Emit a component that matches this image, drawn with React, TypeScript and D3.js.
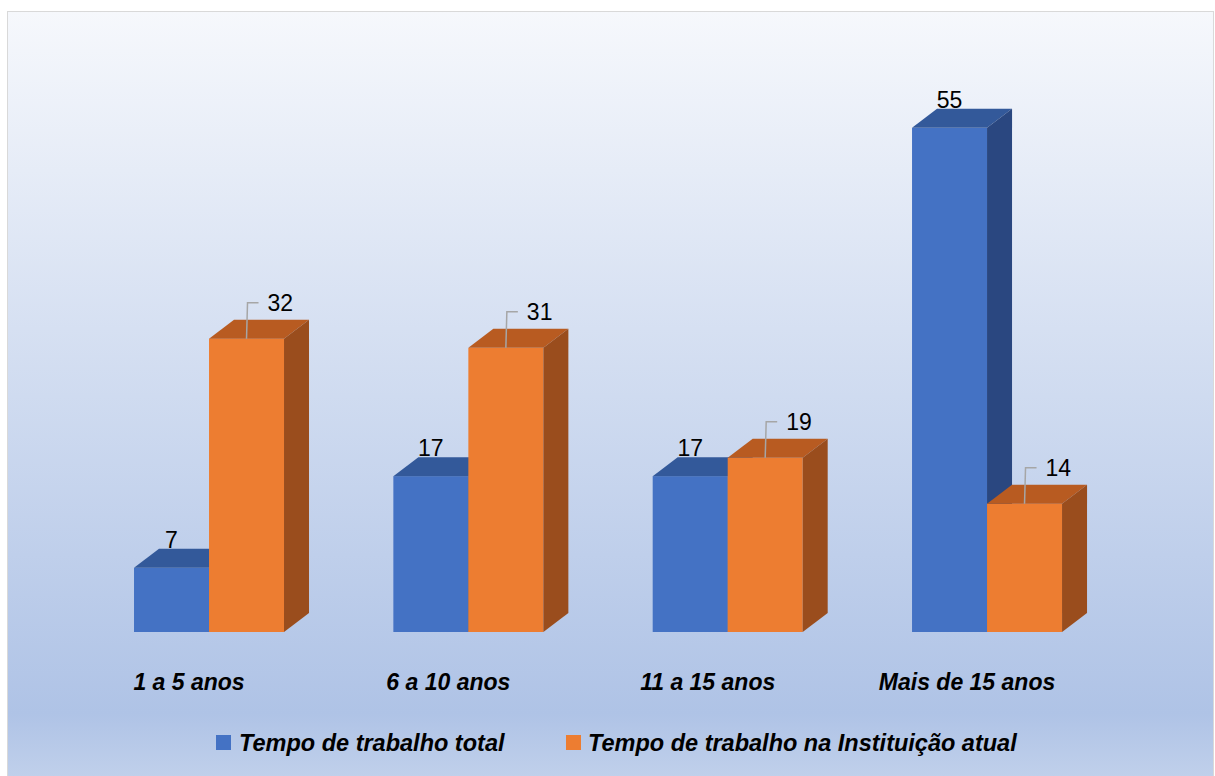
import React from "react";
import * as d3 from "d3";

const categories = ["1 a 5 anos", "6 a 10 anos", "11 a 15 anos", "Mais de 15 anos"];
const seriesNames = ["Tempo de trabalho total", "Tempo de trabalho na Instituição atual"];
const totalValues = [7, 17, 17, 55];
const currentValues = [32, 31, 19, 14];

const W = 1215;
const H = 776;
const baseY = 632;
const dx = 25;
const dy = 19;

const colors = [
  { front: "#4472c4", top: "#33599a", side: "#2a4780" },
  { front: "#ed7d31", top: "#b85b21", side: "#9a4d1d" },
];

export default function App() {
  const x = d3.scaleBand<string>().domain(categories).range([79.35, 1116.7]).padding(0);
  const s = d3.scaleBand<string>().domain(seriesNames).range([-75, 75]).padding(0);
  const y = d3.scaleLinear().domain([0, 60]).range([baseY, baseY - 550]);
  const series = [totalValues, currentValues];
  const font = "'Liberation Sans', Arial, sans-serif";

  const bars: React.ReactNode[] = [];
  const labels: React.ReactNode[] = [];
  categories.forEach((c, ci) => {
    const gc = (x(c) as number) + x.bandwidth() / 2;
    seriesNames.forEach((sn, si) => {
      const v = series[si][ci];
      const bx = gc + (s(sn) as number);
      const bw = s.bandwidth();
      const top = y(v);
      const col = colors[si];
      bars.push(
        <g key={`b${ci}-${si}`}>
          <rect x={bx} y={top} width={bw} height={baseY - top} fill={col.front} />
          <polygon
            points={`${bx},${top} ${bx + dx},${top - dy} ${bx + bw + dx},${top - dy} ${bx + bw},${top}`}
            fill={col.top}
          />
          <polygon
            points={`${bx + bw},${top} ${bx + bw + dx},${top - dy} ${bx + bw + dx},${baseY - dy} ${bx + bw},${baseY}`}
            fill={col.side}
          />
        </g>
      );
      const cx = bx + bw / 2;
      if (si === 0) {
        labels.push(
          <text key={`l${ci}-${si}`} x={cx} y={top - dy - 1} textAnchor="middle" fontSize={23} fontFamily={font} fill="#000">
            {v}
          </text>
        );
      } else {
        const ly = top - 36;
        labels.push(
          <g key={`l${ci}-${si}`}>
            <polyline
              points={`${cx},${top} ${cx + 1},${ly} ${cx + 12},${ly}`}
              fill="none"
              stroke="#a6a6a6"
              strokeWidth={1.5}
            />
            <text x={cx + 21} y={ly + 8} fontSize={23} fontFamily={font} fill="#000">
              {v}
            </text>
          </g>
        );
      }
    });
  });

  return (
    <svg width={W} height={H} style={{ position: "absolute", left: 0, top: 0 }}>
      <defs>
        <linearGradient id="bg" x1="0" y1="0" x2="0" y2="1">
          <stop offset="0" stopColor="#f6f8fc" />
          <stop offset="0.9" stopColor="#afc3e6" />
          <stop offset="1" stopColor="#c4d3ec" />
        </linearGradient>
      </defs>
      <rect x={0} y={0} width={W} height={H} fill="#ffffff" />
      <rect x={7.5} y={11.5} width={1206} height={780} fill="url(#bg)" stroke="#d9d9d9" strokeWidth={1} />
      {bars}
      {labels}
      {categories.map((c) => (
        <text
          key={c}
          x={(x(c) as number) + x.bandwidth() / 2 - 20}
          y={690}
          textAnchor="middle"
          fontSize={23}
          fontWeight="bold"
          fontStyle="italic"
          fontFamily={font}
          fill="#000"
        >
          {c}
        </text>
      ))}
      <g>
        <rect x={216} y={735} width={15} height={15} fill={colors[0].front} />
        <text x={239} y={751} fontSize={23.5} fontWeight="bold" fontStyle="italic" fontFamily={font} fill="#000">
          {seriesNames[0]}
        </text>
        <rect x={566} y={735} width={15} height={15} fill={colors[1].front} />
        <text x={588} y={751} fontSize={23.5} fontWeight="bold" fontStyle="italic" fontFamily={font} fill="#000">
          {seriesNames[1]}
        </text>
      </g>
    </svg>
  );
}
